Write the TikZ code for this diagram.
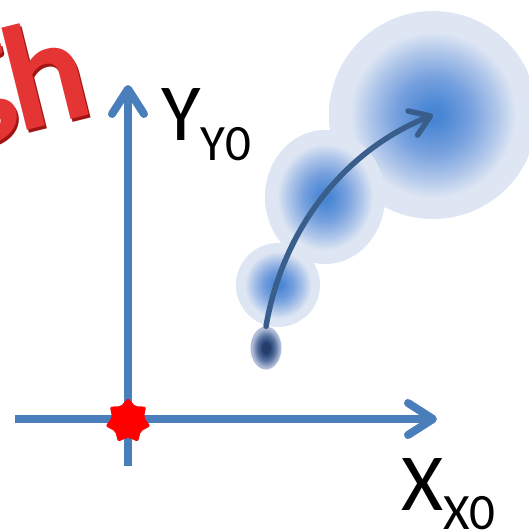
\documentclass[tikz,border=0pt]{standalone}
\usepackage{fontspec}
\setmainfont{Carlito}
\usetikzlibrary{arrows.meta,shapes.geometric}
\definecolor{axisblue}{RGB}{74,126,187}
\definecolor{arrowblue}{RGB}{58,94,140}
\definecolor{blobc}{RGB}{72,134,212}
\definecolor{blobm}{RGB}{118,160,222}
\definecolor{blobn}{RGB}{172,196,233}
\definecolor{blobl}{RGB}{222,230,243}
\definecolor{dc}{RGB}{35,62,108}
\definecolor{dm}{RGB}{90,116,162}
\definecolor{dl}{RGB}{178,190,217}
\definecolor{textred}{RGB}{228,52,52}
\definecolor{darkred}{RGB}{160,20,20}
\pgfdeclareradialshading{blob}{\pgfpoint{0bp}{0bp}}{color(0bp)=(blobc); color(2bp)=(blobc); color(9bp)=(blobm); color(15bp)=(blobn); color(20bp)=(blobl); color(50bp)=(blobl)}
\pgfdeclareradialshading{dblob}{\pgfpoint{0bp}{0bp}}{color(0bp)=(dc); color(6bp)=(dc); color(15bp)=(dm); color(23bp)=(dl); color(50bp)=(dl)}
\tikzset{
  axis/.style={line width=8pt, draw=axisblue, -{Straight Barb[length=25pt,width=32pt,round]}},
  growth/.style={line width=5.5pt, draw=arrowblue, line cap=round, -{Straight Barb[length=19pt,width=26pt,round]}},
  blobstyle/.style={inner sep=0pt, shading=blob},
  lbl/.style={inner sep=0pt, anchor=base west, text=black},
  bigfont/.style={font=\fontsize{81}{81}\selectfont},
  redtext/.style={rotate=14, anchor=base east, inner sep=0pt, font=\fontsize{150}{150}\selectfont\bfseries}
}
\begin{document}
\begin{tikzpicture}[x=1pt,y=-1pt]
\useasboundingbox (0,0) rectangle (528,532);
% red word
\node[redtext, text=darkred] (hishadow) at (99,116) {\raisebox{20pt}{g}\kern-6pt h};
\node[redtext, text=textred] (hitext) at (97,113) {\raisebox{20pt}{g}\kern-6pt h};
% axes
\coordinate (ybot) at (128,466);
\coordinate (ytop) at (128,85);
\coordinate (xleft) at (15,419);
\coordinate (xright) at (437,419);
\draw[axis] (ybot) -- (ytop);
\draw[axis] (xleft) -- (xright);
\node[star, star points=7, star point ratio=1.4, minimum size=46pt, inner sep=0pt, fill=red, rounded corners=2pt] (origin) at (128,421) {};
% labels
\node[lbl, bigfont] (ylab) at (161,140) {Y\raisebox{-20pt}{\fontsize{51}{51}\selectfont Y0}};
\node[lbl, bigfont] (xlab) at (401,510) {X\raisebox{-19pt}{\fontsize{51}{51}\selectfont X0}};
% blobs
\node[circle, minimum size=208pt, blobstyle] (big) at (433,115) {};
\node[ellipse, minimum width=120pt, minimum height=134pt, blobstyle] (mid) at (325,197) {};
\node[circle, minimum size=84pt, blobstyle] (small) at (278,285) {};
\node[ellipse, minimum width=31pt, minimum height=43pt, inner sep=0pt, shading=dblob] (seed) at (266,348) {};
% growth arrow
\draw[growth] (seed.north) .. controls (283,228) and (345,150) .. (big.center);
\end{tikzpicture}
\end{document}
